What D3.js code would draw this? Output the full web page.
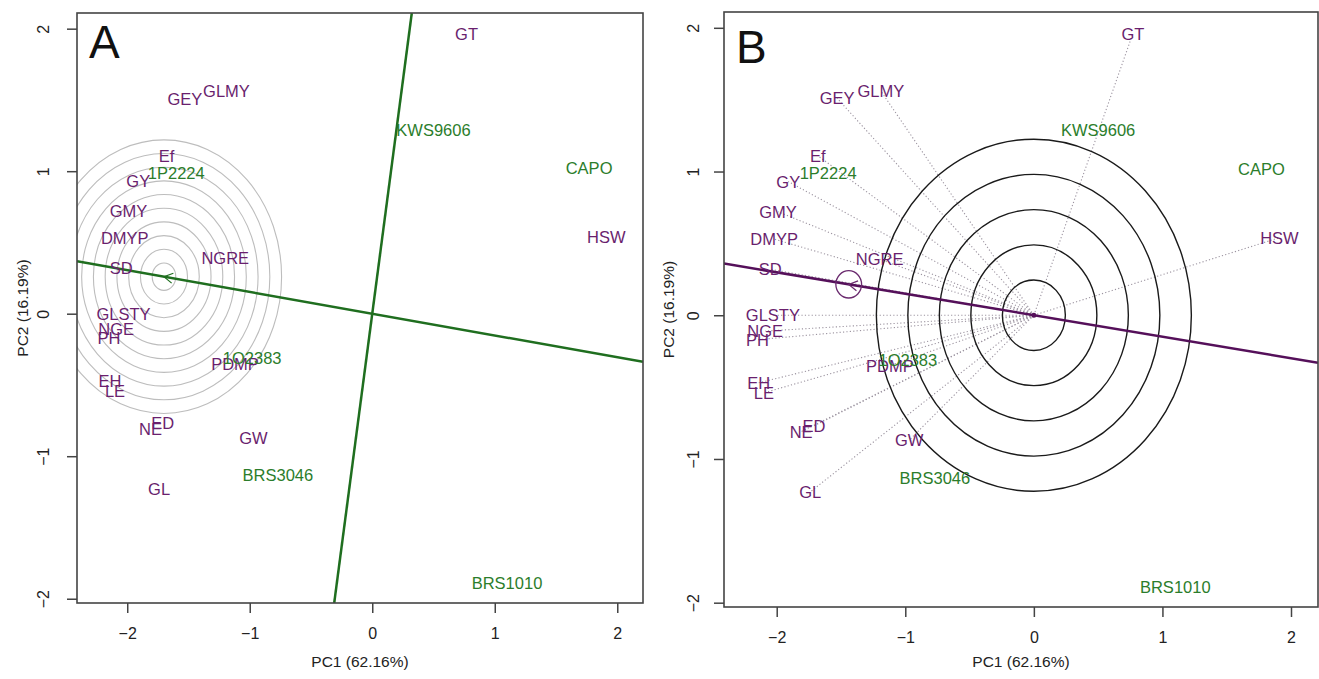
<!DOCTYPE html>
<html><head><meta charset="utf-8">
<script src="https://cdn.jsdelivr.net/npm/d3@7"></script>
<style>body{margin:0;background:#fff}svg{display:block}text{font-family:"Liberation Sans",Arial,sans-serif}</style>
</head><body><svg id="c" width="1319" height="679"></svg>
<script>
// ---- data ----
const traitNames = ["GT","GEY","GLMY","Ef","GY","GMY","DMYP","SD","NGRE","GLSTY","NGE","PH","EH","LE","PDMP","ED","NE","GW","GL","HSW"];
const traitPC1 = [0.77,-1.53,-1.19,-1.68,-1.91,-1.99,-2.02,-2.05,-1.20,-2.03,-2.09,-2.15,-2.14,-2.10,-1.12,-1.71,-1.81,-0.97,-1.74,1.91];
const traitPC2 = [1.96,1.51,1.56,1.11,0.93,0.72,0.53,0.32,0.39,0.00,-0.11,-0.17,-0.47,-0.54,-0.35,-0.77,-0.81,-0.87,-1.23,0.54];
const genoNames = ["KWS9606","CAPO","1P2224","1O2383","BRS3046","BRS1010"];
const genoPC1 = [0.50,1.77,-1.60,-0.98,-0.77,1.10];
const genoPC2 = [1.29,1.02,0.99,-0.31,-1.13,-1.89];
const xTicks = [-2,-1,0,1,2];
const yTicks = [-2,-1,0,1,2];
const xLim = [-2.41,2.21];
const yLim = [-2.03,2.11];
const pointA = [-1.70,0.26];   // ideal point / ring centre, panel A
const ringsA = [0.096,0.192,0.288,0.384,0.48,0.576,0.672,0.768,0.864,0.96];
const pointB = [-1.44,0.215];  // average marker, panel B
const ringsB = [0.245,0.49,0.735,0.98,1.225];
const xTitle = "PC1 (62.16%)", yTitle = "PC2 (16.19%)";

const PURPLE = "#6a1f6e", GREEN = "#2b7d2b";
const LBL = 16.5;
const svg = d3.select("#c");

function panel(cfg){
  const g = svg.append("g");
  const x = d3.scaleLinear().domain(xLim).range([cfg.l, cfg.r]);
  const y = d3.scaleLinear().domain(yLim).range([cfg.b, cfg.t]);
  const cid = "clip"+cfg.id;
  svg.append("clipPath").attr("id",cid).append("rect")
    .attr("x",cfg.l).attr("y",cfg.t).attr("width",cfg.r-cfg.l).attr("height",cfg.b-cfg.t);
  const inner = g.append("g").attr("clip-path",`url(#${cid})`);

  const xa = g.append("g").attr("transform",`translate(0,${cfg.b})`)
    .call(d3.axisBottom(x).tickValues(xTicks).tickSize(10).tickPadding(15).tickFormat(d=>d<0?"\u2212"+(-d):d));
  const ya = g.append("g").attr("transform",`translate(${cfg.l},0)`)
    .call(d3.axisLeft(y).tickValues(yTicks).tickSize(10).tickPadding(0).tickFormat(d=>d<0?"\u2212"+(-d):d));
  [xa,ya].forEach(a=>{a.select(".domain").remove();a.selectAll("line").attr("stroke","#444").attr("stroke-width",1.5);
    a.selectAll("text").attr("font-size",16).attr("fill","#222").attr("font-family","Liberation Sans, Arial");});
  ya.selectAll(".tick text").attr("text-anchor","middle").attr("dy",null).attr("x",null)
    .attr("dominant-baseline","central")
    .attr("transform",`translate(${cfg.ylabX},0) rotate(-90)`);

  g.append("text").attr("x",(cfg.l+cfg.r)/2).attr("y",667).attr("text-anchor","middle")
    .attr("font-size",15.5).attr("fill","#222").text(xTitle);
  g.append("text").attr("transform",`translate(${cfg.ytX},${(cfg.t+cfg.b)/2}) rotate(-90)`)
    .attr("text-anchor","middle").attr("dominant-baseline","central").attr("font-size",15.5).attr("fill","#222").text(yTitle);

  return {g,inner,x,y};
}

function arrowHead(layer,x,y,p,col){
  const px=x(p[0]), py=y(p[1]);
  const dx=x(0)-px, dy=y(0)-py, L=Math.hypot(dx,dy), ux=dx/L, uy=dy/L;
  const len=10, a=Math.PI/6;
  const r=(ang)=>[ux*Math.cos(ang)-uy*Math.sin(ang), ux*Math.sin(ang)+uy*Math.cos(ang)];
  const [ax,ay]=r(a),[bx,by]=r(-a);
  layer.append("path").attr("d",`M${px+ax*len},${py+ay*len}L${px},${py}L${px+bx*len},${py+by*len}`)
    .attr("fill","none").attr("stroke",col).attr("stroke-width",1.2);
}

function labels(layer,x,y){
  layer.selectAll(".tr").data(traitNames).enter().append("text")
    .attr("x",(d,i)=>x(traitPC1[i])).attr("y",(d,i)=>y(traitPC2[i]))
    .attr("text-anchor","middle").attr("dominant-baseline","central")
    .attr("font-size",LBL).attr("fill",PURPLE).text(d=>d);
  layer.selectAll(".ge").data(genoNames).enter().append("text")
    .attr("x",(d,i)=>x(genoPC1[i])).attr("y",(d,i)=>y(genoPC2[i]))
    .attr("text-anchor","middle").attr("dominant-baseline","central")
    .attr("font-size",LBL).attr("fill",GREEN).text(d=>d);
}

// ---------- Panel A ----------
{
  const {g,inner,x,y} = panel({id:"A",l:77,r:643,t:13,b:603,ylabX:-34,ytX:22});
  inner.selectAll(".ring").data(ringsA).enter().append("ellipse")
    .attr("cx",x(pointA[0])).attr("cy",y(pointA[1]))
    .attr("rx",d=>x(d)-x(0)).attr("ry",d=>y(0)-y(d))
    .attr("fill","none").attr("stroke","#bdbdbd").attr("stroke-width",1.1);
  const s = pointA[1]/pointA[0];
  inner.append("line").attr("x1",x(xLim[0])).attr("y1",y(s*xLim[0])).attr("x2",x(xLim[1])).attr("y2",y(s*xLim[1]))
    .attr("stroke","#1f6e1f").attr("stroke-width",2.5);
  const sp = -1/s;
  inner.append("line").attr("x1",x(yLim[0]/sp)).attr("y1",y(yLim[0])).attr("x2",x(yLim[1]/sp)).attr("y2",y(yLim[1]))
    .attr("stroke","#1f6e1f").attr("stroke-width",2.5);
  arrowHead(inner,x,y,pointA,"#1f6e1f");
  labels(inner,x,y);
  g.append("rect").attr("x",77).attr("y",13).attr("width",566).attr("height",590)
    .attr("fill","none").attr("stroke","#444").attr("stroke-width",1.6);
  g.append("text").attr("x",89).attr("y",58).attr("font-size",46).attr("fill","#111").text("A");
}

// ---------- Panel B ----------
{
  const {g,inner,x,y} = panel({id:"B",l:724,r:1318,t:12,b:607,ylabX:-31,ytX:668});
  inner.selectAll(".vec").data(traitNames).enter().append("line")
    .attr("x1",x(0)).attr("y1",y(0))
    .attr("x2",(d,i)=>x(traitPC1[i])).attr("y2",(d,i)=>y(traitPC2[i]))
    .attr("stroke","#9c94a0").attr("stroke-width",1.1).attr("stroke-dasharray","1.2,2.2");
  inner.selectAll(".ring").data(ringsB).enter().append("ellipse")
    .attr("cx",x(0)).attr("cy",y(0))
    .attr("rx",d=>x(d)-x(0)).attr("ry",d=>y(0)-y(d))
    .attr("fill","none").attr("stroke","#1a1a1a").attr("stroke-width",1.4);
  const s = pointB[1]/pointB[0];
  inner.append("line").attr("x1",x(xLim[0])).attr("y1",y(s*xLim[0])).attr("x2",x(xLim[1])).attr("y2",y(s*xLim[1]))
    .attr("stroke","#55105a").attr("stroke-width",2.5);
  inner.append("circle").attr("cx",x(0)).attr("cy",y(0)).attr("r",2.5).attr("fill","#55105a");
  inner.append("ellipse").attr("cx",x(pointB[0])).attr("cy",y(pointB[1]))
    .attr("rx",x(0.1)-x(0)).attr("ry",y(0)-y(0.095)).attr("fill","none").attr("stroke","#6a2a6e").attr("stroke-width",1.3);
  arrowHead(inner,x,y,pointB,"#6a2a6e");
  labels(inner,x,y);
  g.append("rect").attr("x",724).attr("y",12).attr("width",594).attr("height",595)
    .attr("fill","none").attr("stroke","#444").attr("stroke-width",1.6);
  g.append("text").attr("x",736).attr("y",63).attr("font-size",46).attr("fill","#111").text("B");
}
</script></body></html>
